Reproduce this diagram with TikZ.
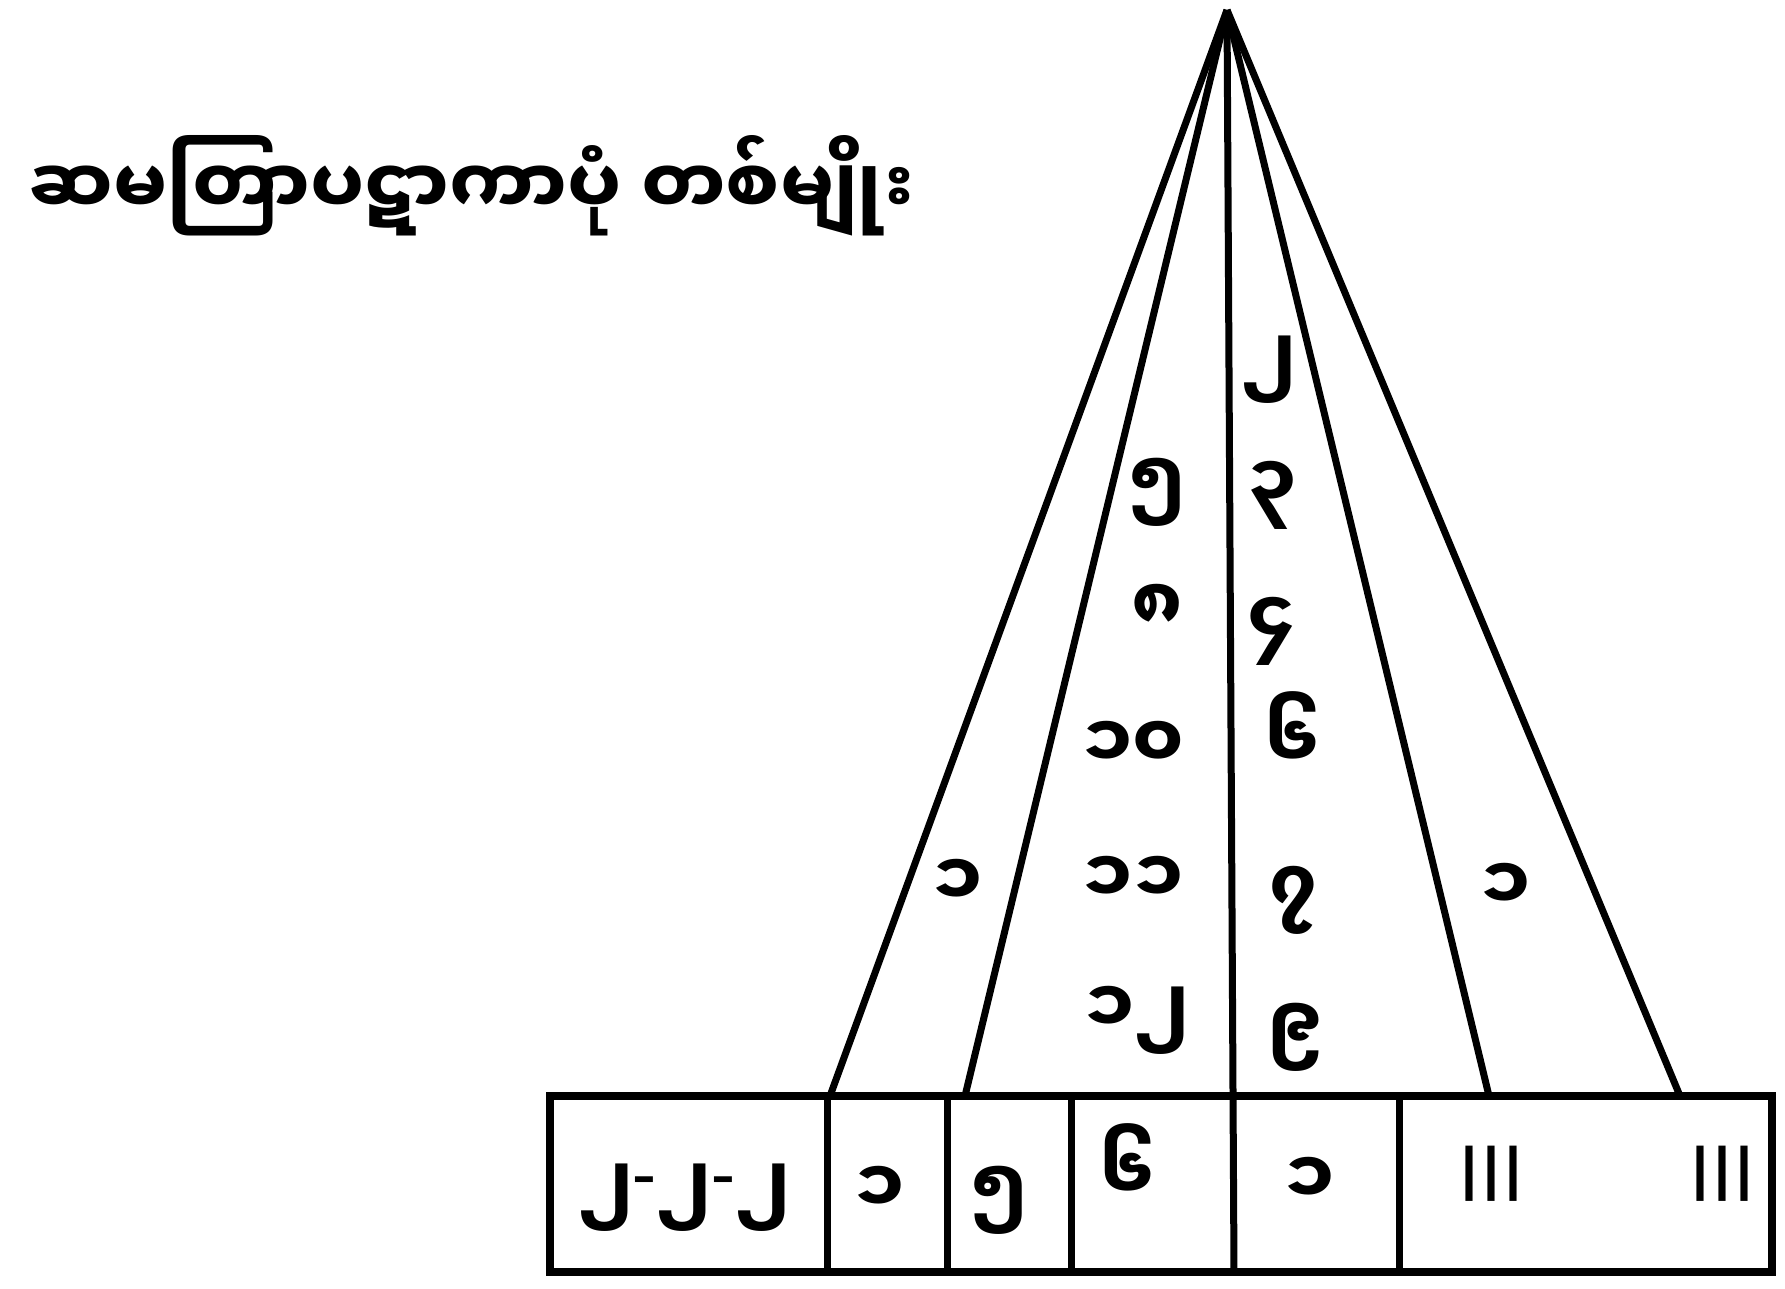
\documentclass[tikz,border=0pt]{standalone}
\usepackage{fontspec}
\newfontfamily\mm[Script=Myanmar]{Noto Sans Myanmar UI}
\newfontfamily\ns{Noto Sans}
\begin{document}
\begin{tikzpicture}[x=1pt,y=-1pt,
  ln/.style={line width=7pt},
  boxline/.style={line width=8pt, line join=miter},
  lbl/.style={font=\mm\bfseries\fontsize{74}{80}\selectfont, inner sep=0pt},
  bars/.style={font=\mm\fontsize{74}{80}\selectfont, inner sep=0pt},
  ttl/.style={font=\mm\bfseries\fontsize{76}{90}\selectfont, inner sep=0pt, anchor=base west}]
\useasboundingbox (0,0) rectangle (1785,1289);
% key points
\coordinate (apex) at (1227,10);
\coordinate (tl) at (550,1096);
\coordinate (br) at (1772,1272);
\foreach \n/\x in {d1/827,d2/947,d3/1071,d4/1234,d5/1399}{
  \coordinate (\n t) at (\x,1096);
  \coordinate (\n b) at (\x,1272);
}
\coordinate (e1) at (830,1096);
\coordinate (e2) at (965,1096);
\coordinate (e4) at (1489,1096);
\coordinate (e5) at (1680,1096);
% box and dividers
\draw[boxline] (tl) rectangle (br);
\foreach \n in {d1,d2,d3,d5}{\draw[ln] (\n t) -- (\n b);}
% rays from apex
\draw[ln] (apex) -- (e1);
\draw[ln] (apex) -- (e2);
\draw[ln] (apex) -- (d4b);
\draw[ln] (apex) -- (e4);
\draw[ln] (apex) -- (e5);
% title
\node[ttl] (title) at (28,216) {ဆမတြာပဋာကာပုံ တစ်မျိုး};
% labels in triangle
\node[lbl] (l1) at (957,883) {၁};
\node[lbl] (r1) at (1505,887) {၁};
\node[lbl] (c5) at (1157,492) {၅};
\node[lbl] (c8) at (1157,608) {၈};
\node[lbl] (c10) at (1133,745) {၁၀};
\node[lbl] (c11) at (1133,880) {၁၁};
\node[lbl] (c12) at (1137,1020) {၁၂};
\node[lbl] (c2) at (1269,370) {၂};
\node[lbl] (c3) at (1272,495) {၃};
\node[lbl] (c4) at (1272,631) {၄};
\node[lbl] (c6) at (1293,731) {၆};
\node[lbl] (c7) at (1294,900) {၇};
\node[lbl] (c9) at (1296,1037) {၉};
% labels in box cells
\node[lbl] (b1) at (684,1198) {၂\raisebox{12pt}{\ns\bfseries -}၂\raisebox{12pt}{\ns\bfseries -}၂};
\node[lbl] (b2) at (880,1190) {၁};
\node[lbl] (b3) at (999,1200) {၅};
\node[lbl] (b4) at (1128,1163) {၆};
\node[lbl] (b5) at (1309,1181) {၁};
\node[bars] (b6) at (1491,1182) {\scalebox{1.1}[1.55]{၊၊၊}};
\node[bars] (b7) at (1722,1182) {\scalebox{1.1}[1.55]{၊၊၊}};
\end{tikzpicture}
\end{document}
